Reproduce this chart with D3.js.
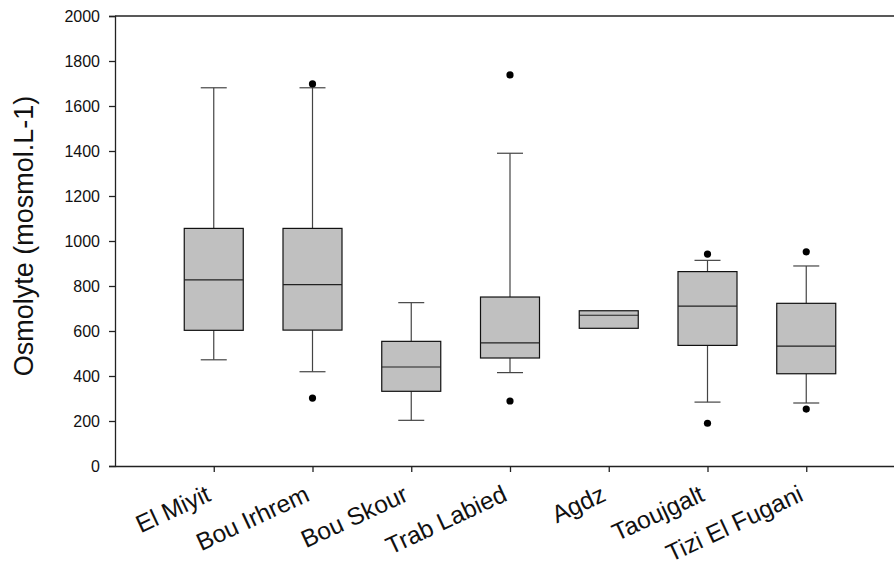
<!DOCTYPE html>
<html>
<head>
<meta charset="utf-8">
<script src="https://cdn.jsdelivr.net/npm/d3@7"></script>
<style>
  html, body { margin: 0; padding: 0; background: #fff; }
  svg { display: block; }
  text { font-family: Arial, "Liberation Sans", Helvetica, sans-serif; fill: #111; }
</style>
</head>
<body>
<svg id="chart" width="894" height="567"></svg>
<script>
// Sampling sites along the x axis
const categories = ["El Miyit", "Bou Irhrem", "Bou Skour", "Trab Labied", "Agdz", "Taoujgalt", "Tizi El Fugani"];

// Box-plot statistics per site (mosmol.L-1)
const whiskerLow  = [472, 419, 203, 415, 612, 284, 280];
const q1          = [603, 604, 332, 480, 612, 536, 410];
const median      = [827, 806, 440, 547, 670, 711, 533];
const q3          = [1056, 1056, 554, 751, 690, 864, 723];
const whiskerHigh = [1681, 1681, 726, 1390, 690, 914, 889];
const outliers    = [[], [1698, 302], [], [1738, 289], [], [942, 190], [952, 253]];

// Y axis ticks
const yTicks = [0, 200, 400, 600, 800, 1000, 1200, 1400, 1600, 1800, 2000];

const svg = d3.select("#chart");
const W = 894;
const plotLeft = 115, plotTop = 16, plotBottom = 466, plotRight = 905;

const x = d3.scalePoint().domain(categories).range([plotLeft, plotRight]).padding(1);
const y = d3.scaleLinear().domain([0, 2000]).range([plotBottom, plotTop]);

const boxW = 59, capW = 26;
const fontStack = "Arial, 'Liberation Sans', sans-serif";

// Top frame line
svg.append("line")
  .attr("x1", plotLeft).attr("x2", W)
  .attr("y1", y(2000)).attr("y2", y(2000))
  .attr("stroke", "#222").attr("stroke-width", 1.3);

// Y axis
const yAxis = svg.append("g")
  .attr("transform", `translate(${plotLeft},0)`)
  .call(d3.axisLeft(y).tickValues(yTicks).tickSize(6).tickPadding(9).tickFormat(d3.format("d")));
yAxis.select(".domain").attr("stroke", "#222").attr("stroke-width", 1.3);
yAxis.selectAll(".tick line").attr("stroke", "#222").attr("stroke-width", 1.3);
yAxis.selectAll(".tick text").attr("font-size", 16).attr("font-family", fontStack).attr("fill", "#111");

// X axis
const xAxis = svg.append("g")
  .attr("transform", `translate(0,${plotBottom})`)
  .call(d3.axisBottom(x).tickSize(6).tickSizeOuter(0));
xAxis.select(".domain").attr("stroke", "#222").attr("stroke-width", 1.3);
xAxis.selectAll(".tick line").attr("stroke", "#222").attr("stroke-width", 1.3);
xAxis.selectAll(".tick text")
  .attr("font-size", 24.5)
  .attr("font-family", fontStack)
  .attr("fill", "#111")
  .attr("text-anchor", "end")
  .attr("y", 0)
  .attr("dy", "0")
  .attr("transform", "translate(-2,34) rotate(-25)");

// Y axis title
svg.append("text")
  .attr("transform", `translate(33,236) rotate(-90)`)
  .attr("text-anchor", "middle")
  .attr("font-size", 27)
  .attr("font-family", fontStack)
  .text("Osmolyte (mosmol.L-1)");

// Boxes
const idx = d3.range(categories.length);
const g = svg.append("g");

idx.forEach(i => {
  const cx = x(categories[i]);
  const grp = g.append("g");
  // whiskers
  if (whiskerHigh[i] > q3[i]) {
    grp.append("line").attr("x1", cx).attr("x2", cx)
      .attr("y1", y(q3[i])).attr("y2", y(whiskerHigh[i]))
      .attr("stroke", "#444").attr("stroke-width", 1.2);
    grp.append("line").attr("x1", cx - capW / 2).attr("x2", cx + capW / 2)
      .attr("y1", y(whiskerHigh[i])).attr("y2", y(whiskerHigh[i]))
      .attr("stroke", "#444").attr("stroke-width", 1.2);
  }
  if (whiskerLow[i] < q1[i]) {
    grp.append("line").attr("x1", cx).attr("x2", cx)
      .attr("y1", y(q1[i])).attr("y2", y(whiskerLow[i]))
      .attr("stroke", "#444").attr("stroke-width", 1.2);
    grp.append("line").attr("x1", cx - capW / 2).attr("x2", cx + capW / 2)
      .attr("y1", y(whiskerLow[i])).attr("y2", y(whiskerLow[i]))
      .attr("stroke", "#444").attr("stroke-width", 1.2);
  }
  // box
  grp.append("rect")
    .attr("x", cx - boxW / 2).attr("width", boxW)
    .attr("y", y(q3[i])).attr("height", y(q1[i]) - y(q3[i]))
    .attr("fill", "#c0c0c0").attr("stroke", "#111").attr("stroke-width", 1.2);
  // median
  grp.append("line").attr("x1", cx - boxW / 2).attr("x2", cx + boxW / 2)
    .attr("y1", y(median[i])).attr("y2", y(median[i]))
    .attr("stroke", "#222").attr("stroke-width", 1.2);
  // outliers
  grp.selectAll("circle").data(outliers[i]).join("circle")
    .attr("cx", cx).attr("cy", d => y(d)).attr("r", 3.6)
    .attr("fill", "#000");
});
</script>
</body>
</html>
